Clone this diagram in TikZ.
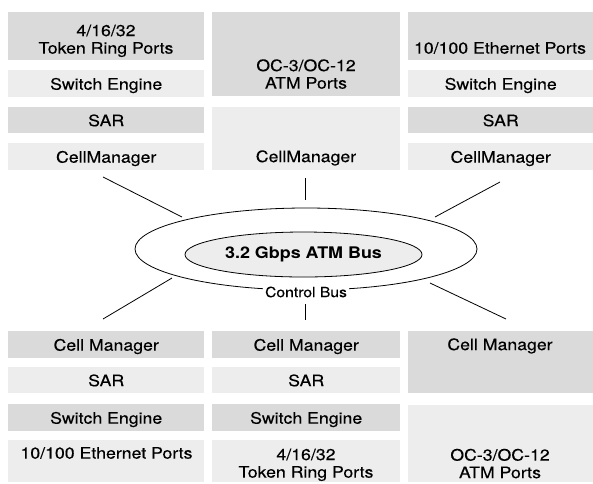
\documentclass[tikz,border=0pt]{standalone}
\usepackage{fontspec}
\setmainfont{TeX Gyre Heros}[FakeStretch=1.12,UprightFeatures={FakeBold=0.3}]
\usetikzlibrary{positioning,shapes.geometric}
\definecolor{dkgray}{RGB}{218,218,218}
\definecolor{ltgray}{RGB}{237,237,237}

\begin{document}
\begin{tikzpicture}[x=1pt,y=-1pt,
    box/.style={rectangle,inner sep=0pt,anchor=north west,
      text height=12pt,text depth=0pt,
      font=\fontsize{15.8}{17.5}\selectfont},
    dk/.style={box,fill=dkgray},
    lt/.style={box,fill=ltgray},
    colL/.style={minimum width=196pt},
    colM/.style={minimum width=188pt},
    colR/.style={minimum width=185pt},
    txt/.style={inner sep=0pt,align=center,
      text height=11.2pt,text depth=0pt,
      font=\fontsize{15.8}{17.5}\selectfont},
    bus/.style={line width=0.8pt}]
  \useasboundingbox (0,0) rectangle (593,483);

  % top left card
  \node[dk,colL,minimum height=48pt] (tl1) at (8,12) {};
  \node[lt,colL,minimum height=27pt] (tl2) at (8,70) {Switch Engine};
  \node[dk,colL,minimum height=26pt] (tl3) at (8,107) {SAR};
  \node[lt,colL,minimum height=27pt] (tl4) at (8,143) {CellManager};
  \node[txt] (tl1t) at (106,48) {4/16/32\\Token Ring Ports};

  % top middle card
  \node[dk,colM,minimum height=84pt] (tm1) at (212,12) {};
  \node[lt,colM,minimum height=63pt] (tm2) at (212,107) {};
  \node[txt] (tm1t) at (306,83) {OC-3/OC-12\\ATM Ports};
  \node[txt] (tm2t) at (306,156.5) {CellManager};

  % top right card
  \node[dk,colR,minimum height=48pt] (tr1) at (408,12) {};
  \node[lt,colR,minimum height=27pt] (tr2) at (408,70) {Switch Engine};
  \node[dk,colR,minimum height=26pt] (tr3) at (408,107) {SAR};
  \node[lt,colR,minimum height=27pt] (tr4) at (408,143) {CellManager};
  \node[txt] (tr1t) at (500,48) {10/100 Ethernet Ports};

  % bottom left card
  \node[dk,colL,minimum height=27pt] (bl1) at (8,331) {Cell Manager};
  \node[lt,colL,minimum height=26pt] (bl2) at (8,367) {SAR};
  \node[dk,colL,minimum height=27pt] (bl3) at (8,404) {Switch Engine};
  \node[lt,colL,minimum height=42pt] (bl4) at (8,440) {};
  \node[txt] (bl4t) at (106.5,453) {10/100 Ethernet Ports};

  % bottom middle card
  \node[dk,colM,minimum height=27pt] (bm1) at (212,331) {Cell Manager};
  \node[lt,colM,minimum height=26pt] (bm2) at (212,367) {SAR};
  \node[dk,colM,minimum height=27pt] (bm3) at (212,404) {Switch Engine};
  \node[lt,colM,minimum height=42pt] (bm4) at (212,440) {};
  \node[txt] (bm4t) at (306,472) {4/16/32\\Token Ring Ports};

  % bottom right card
  \node[dk,colR,minimum height=62pt] (br1) at (408,331) {};
  \node[lt,colR,minimum height=77pt] (br2) at (408,405) {};
  \node[txt] (br1t) at (500,344.5) {Cell Manager};
  \node[txt] (br2t) at (500,472.5) {OC-3/OC-12\\ATM Ports};

  % the two buses
  \node[ellipse,draw,bus,minimum width=342pt,minimum height=82pt] (ctrl) at (306,249) {};
  \node[ellipse,draw,bus,fill=ltgray,minimum width=237pt,minimum height=45pt,
    font=\fontsize{16}{18}\selectfont\bfseries] (atm) at (303.5,254.5) {3.2 Gbps ATM Bus};
  \node[fill=white,inner sep=2pt,font=\fontsize{14}{16}\selectfont] (ctrlt) at (306,292) {Control Bus};

  % spokes
  \coordinate (s1a) at (103,177); \coordinate (s1b) at (182,217);
  \coordinate (s2a) at (305,178); \coordinate (s2b) at (305,200);
  \coordinate (s3a) at (500,182); \coordinate (s3b) at (435,217);
  \coordinate (s4a) at (172,278); \coordinate (s4b) at (103,319);
  \coordinate (s5a) at (305,304); \coordinate (s5b) at (305,320);
  \coordinate (s6a) at (430,283); \coordinate (s6b) at (506,319);
  \draw[bus] (s1a) -- (s1b);
  \draw[bus] (s2a) -- (s2b);
  \draw[bus] (s3a) -- (s3b);
  \draw[bus] (s4a) -- (s4b);
  \draw[bus] (s5a) -- (s5b);
  \draw[bus] (s6a) -- (s6b);
\end{tikzpicture}
\end{document}
